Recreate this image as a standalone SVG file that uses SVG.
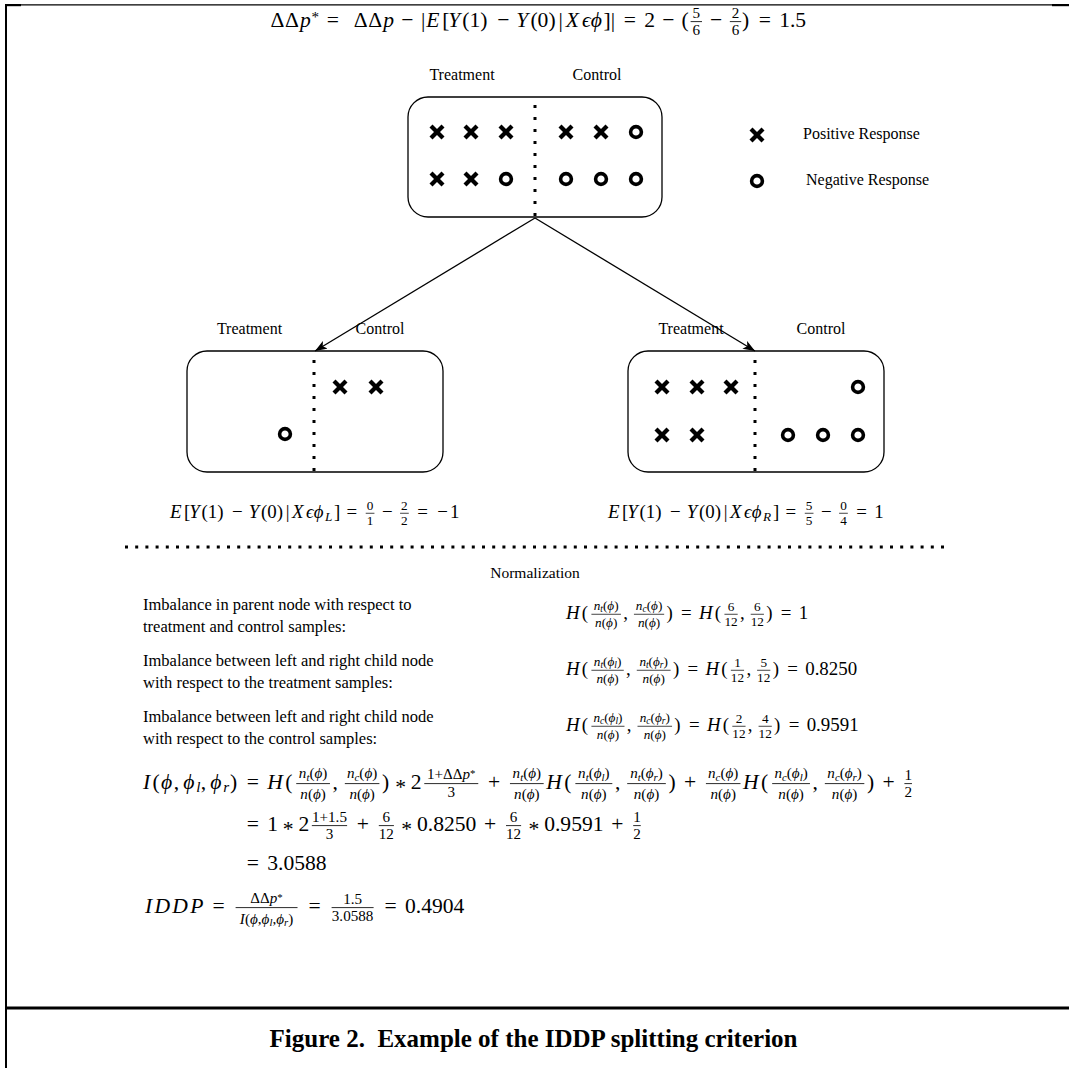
<svg xmlns="http://www.w3.org/2000/svg" width="1069" height="1068" viewBox="0 0 1069 1068">
<style>
.lbl{font-family:"Liberation Serif","DejaVu Serif",serif;font-size:16px;fill:#000}
.txt{font-family:"Liberation Serif","DejaVu Serif",serif;font-size:16.5px;fill:#000}
.cap{font-family:"Liberation Serif","DejaVu Serif",serif;font-size:25px;font-weight:bold;fill:#000;white-space:pre}
.math{font-family:"Liberation Serif","DejaVu Serif",serif;font-size:18px;fill:#000}
.i{font-style:italic}
.f{font-size:12.6px;text-anchor:middle}
.s{font-size:12.6px}
.ss{font-size:9px}
.fb{stroke:#000;stroke-width:0.7}
.node{fill:#fff;stroke:#000;stroke-width:1.3}
.div{stroke:#000;stroke-width:3;stroke-dasharray:3 9}
.x{stroke:#000;stroke-width:4.2}
.o{fill:none;stroke:#000;stroke-width:3.6}
.edge{stroke:#000;stroke-width:1.3;fill:none}
.frame{stroke:#000;fill:none}
</style>
<defs>
<marker id="arr" markerUnits="userSpaceOnUse" markerWidth="13" markerHeight="10" refX="12" refY="5" orient="auto"><path d="M0,0.5 L12,5 L0,9.5 L3,5 Z" fill="#000"/></marker>
<g id="X"><line x1="-6" y1="-6" x2="6" y2="6"/><line x1="-6" y1="6" x2="6" y2="-6"/></g>
<circle id="O" r="5.4"/>
</defs>

<g id="frame">
<line class="frame" x1="5" y1="4.8" x2="1069" y2="4.8" stroke-width="1.3"/>
<rect x="5" y="4" width="16" height="2.2" fill="#000"/>
<rect x="1052" y="4" width="17" height="2.2" fill="#000"/>
<line class="frame" x1="6" y1="4" x2="6" y2="1068" stroke-width="2"/>
<line class="frame" x1="5" y1="1008" x2="1069" y2="1008" stroke-width="3"/>
</g>

<!-- top formula -->
<g id="formula-top" class="math" transform="translate(264,27) scale(1.2)">
<text>
<tspan x="5.5" y="0">Δ</tspan><tspan x="17.5" y="0">Δ</tspan>
<tspan x="30" y="0" class="i">p</tspan>
<tspan x="39.5" y="-4" class="s">*</tspan>
<tspan x="52.2" y="0">=</tspan>
<tspan x="74.8" y="0">Δ</tspan><tspan x="86.8" y="0">Δ</tspan>
<tspan x="99.3" y="0" class="i">p</tspan>
<tspan x="114.3" y="0">−</tspan>
<tspan x="130.8" y="0">|</tspan>
<tspan x="135.3" y="0" class="i">E</tspan>
<tspan x="148.6" y="0">[</tspan>
<tspan x="153.6" y="0" class="i">Y</tspan>
<tspan x="165.3" y="0">(1)</tspan>
<tspan x="194.3" y="0">−</tspan>
<tspan x="210.3" y="0" class="i">Y</tspan>
<tspan x="222" y="0">(0)</tspan>
<tspan x="245.5" y="0">|</tspan>
<tspan x="251.5" y="0" class="i">X</tspan>
<tspan x="264.9" y="0" class="i">ϵ</tspan>
<tspan x="272.2" y="0" class="i">ϕ</tspan>
<tspan x="282.9" y="0">]|</tspan>
<tspan x="299.8" y="0">=</tspan>
<tspan x="316.9" y="0">2</tspan>
<tspan x="331.9" y="0">−</tspan>
<tspan x="347.9" y="0">(</tspan>
<tspan x="371.6" y="0">−</tspan>
<tspan x="398.3" y="0">)</tspan>
<tspan x="412.2" y="0">=</tspan>
<tspan x="429.3" y="0">1.5</tspan>
</text>
<text class="f" x="360.25" y="-7.5">5</text><text class="f" x="360.25" y="6.5">6</text><line class="fb" x1="355.5" y1="-4.5" x2="365" y2="-4.5"/>
<text class="f" x="393" y="-7.5">2</text><text class="f" x="393" y="6.5">6</text><line class="fb" x1="388.2" y1="-4.5" x2="397.7" y2="-4.5"/>
</g>

<!-- nodes -->
<g id="node-parent">
<text class="lbl" x="462" y="80" text-anchor="middle">Treatment</text>
<text class="lbl" x="597" y="80" text-anchor="middle">Control</text>
<rect class="node" x="408" y="97" width="254" height="120" rx="20" ry="20"/>
<line class="div" x1="535" y1="105" x2="535" y2="218"/>
<use href="#X" class="x" x="437" y="132"/><use href="#X" class="x" x="471" y="132"/><use href="#X" class="x" x="506" y="132"/>
<use href="#X" class="x" x="566" y="132"/><use href="#X" class="x" x="601" y="132"/><use href="#O" class="o" x="636" y="132"/>
<use href="#X" class="x" x="437" y="179"/><use href="#X" class="x" x="471" y="179"/><use href="#O" class="o" x="506" y="179"/>
<use href="#O" class="o" x="566" y="179"/><use href="#O" class="o" x="601" y="179"/><use href="#O" class="o" x="636" y="179"/>
</g>

<g id="legend">
<use href="#X" class="x" x="757" y="135"/>
<text class="lbl" x="803" y="138.5">Positive Response</text>
<use href="#O" class="o" x="757" y="181"/>
<text class="lbl" x="806" y="185">Negative Response</text>
</g>

<g id="node-left">
<text class="lbl" x="249.5" y="334" text-anchor="middle">Treatment</text>
<text class="lbl" x="380" y="334" text-anchor="middle">Control</text>
<rect class="node" x="187" y="351" width="256" height="121" rx="20" ry="20"/>
<line class="div" x1="314" y1="360" x2="314" y2="473"/>
<use href="#X" class="x" x="340" y="387"/><use href="#X" class="x" x="376" y="387"/>
<use href="#O" class="o" x="285" y="434"/>
</g>

<g id="node-right">
<text class="lbl" x="691" y="334" text-anchor="middle">Treatment</text>
<text class="lbl" x="821" y="334" text-anchor="middle">Control</text>
<rect class="node" x="628" y="351" width="256" height="121" rx="20" ry="20"/>
<line class="div" x1="755" y1="360" x2="755" y2="473"/>
<use href="#X" class="x" x="662" y="387"/><use href="#X" class="x" x="697" y="387"/><use href="#X" class="x" x="731" y="387"/>
<use href="#O" class="o" x="858" y="387"/>
<use href="#X" class="x" x="662" y="435"/><use href="#X" class="x" x="697" y="435"/>
<use href="#O" class="o" x="788" y="435"/><use href="#O" class="o" x="823" y="435"/><use href="#O" class="o" x="858" y="435"/>
</g>

<g id="connectors">
<line class="edge" x1="535" y1="218" x2="315" y2="351" marker-end="url(#arr)"/>
<line class="edge" x1="535" y1="218" x2="755" y2="351" marker-end="url(#arr)"/>
</g>

<!-- child formulas -->
<g id="formula-left" class="math" transform="translate(170,518) scale(1.05)">
<text>
<tspan x="0" y="0" class="i">E</tspan>
<tspan x="13.3" y="0">[</tspan>
<tspan x="18.3" y="0" class="i">Y</tspan>
<tspan x="30" y="0">(1)</tspan>
<tspan x="59" y="0">−</tspan>
<tspan x="75" y="0" class="i">Y</tspan>
<tspan x="86.7" y="0">(0)</tspan>
<tspan x="110.2" y="0">|</tspan>
<tspan x="116.2" y="0" class="i">X</tspan>
<tspan x="129.6" y="0" class="i">ϵ</tspan>
<tspan x="136.9" y="0" class="i">ϕ</tspan>
<tspan x="147.6" y="2.7" class="s i">L</tspan>
<tspan x="156.2" y="0">]</tspan>
<tspan x="168.1" y="0">=</tspan>
<tspan x="201.9" y="0">−</tspan>
<tspan x="235.5" y="0">=</tspan>
<tspan x="254.6" y="0">−</tspan>
<tspan x="266.6" y="0">1</tspan>
</text>
<text class="f" x="190.55" y="-7.5">0</text><text class="f" x="190.55" y="6.5">1</text><line class="fb" x1="186.4" y1="-4.5" x2="194.7" y2="-4.5"/>
<text class="f" x="223.25" y="-7.5">2</text><text class="f" x="223.25" y="6.5">2</text><line class="fb" x1="219.1" y1="-4.5" x2="227.4" y2="-4.5"/>
</g>

<g id="formula-right" class="math" transform="translate(608,518) scale(1.05)">
<text>
<tspan x="0" y="0" class="i">E</tspan>
<tspan x="13.3" y="0">[</tspan>
<tspan x="18.3" y="0" class="i">Y</tspan>
<tspan x="30" y="0">(1)</tspan>
<tspan x="59" y="0">−</tspan>
<tspan x="75" y="0" class="i">Y</tspan>
<tspan x="86.7" y="0">(0)</tspan>
<tspan x="110.2" y="0">|</tspan>
<tspan x="116.2" y="0" class="i">X</tspan>
<tspan x="129.6" y="0" class="i">ϵ</tspan>
<tspan x="136.9" y="0" class="i">ϕ</tspan>
<tspan x="147.6" y="2.7" class="s i">R</tspan>
<tspan x="157.2" y="0">]</tspan>
<tspan x="169.1" y="0">=</tspan>
<tspan x="202.9" y="0">−</tspan>
<tspan x="236.5" y="0">=</tspan>
<tspan x="253.6" y="0">1</tspan>
</text>
<text class="f" x="191.55" y="-7.5">5</text><text class="f" x="191.55" y="6.5">5</text><line class="fb" x1="187.4" y1="-4.5" x2="195.7" y2="-4.5"/>
<text class="f" x="224.25" y="-7.5">0</text><text class="f" x="224.25" y="6.5">4</text><line class="fb" x1="220.1" y1="-4.5" x2="228.4" y2="-4.5"/>
</g>

<line x1="125" y1="547" x2="946" y2="547" stroke="#000" stroke-width="3" stroke-dasharray="3 7.2"/>

<text class="lbl" x="535" y="578" text-anchor="middle" style="font-size:15.5px">Normalization</text>

<g id="norm-text">
<text class="txt" x="143" y="610">Imbalance in parent node with respect to</text>
<text class="txt" x="143" y="632">treatment and control samples:</text>
<text class="txt" x="143" y="666">Imbalance between left and right child node</text>
<text class="txt" x="143" y="688">with respect to the treatment samples:</text>
<text class="txt" x="143" y="722">Imbalance between left and right child node</text>
<text class="txt" x="143" y="744">with respect to the control samples:</text>
</g>

<!-- H1 -->
<g id="formula-h1" class="math" transform="translate(566,619) scale(1.05)">
<text>
<tspan x="0" y="0" class="i">H</tspan>
<tspan x="15" y="0">(</tspan>
<tspan x="54.5" y="0">,</tspan>
<tspan x="95.7" y="0">)</tspan>
<tspan x="109.6" y="0">=</tspan>
<tspan x="126.7" y="0" class="i">H</tspan>
<tspan x="141.7" y="0">(</tspan>
<tspan x="165.7" y="0">,</tspan>
<tspan x="190.7" y="0">)</tspan>
<tspan x="204.6" y="0">=</tspan>
<tspan x="221.7" y="0">1</tspan>
</text>
<text class="f" x="38.25" y="-9"><tspan class="i">n</tspan><tspan class="ss i" dy="2">t</tspan><tspan dy="-2">(</tspan><tspan class="i">ϕ</tspan>)</text>
<text class="f" x="38.25" y="8"><tspan class="i">n</tspan>(<tspan class="i">ϕ</tspan>)</text>
<line class="fb" x1="24.2" y1="-4.5" x2="52.3" y2="-4.5"/>
<text class="f" x="79.1" y="-9"><tspan class="i">n</tspan><tspan class="ss i" dy="2">c</tspan><tspan dy="-2">(</tspan><tspan class="i">ϕ</tspan>)</text>
<text class="f" x="79.1" y="8"><tspan class="i">n</tspan>(<tspan class="i">ϕ</tspan>)</text>
<line class="fb" x1="64.7" y1="-4.5" x2="93.5" y2="-4.5"/>
<text class="f" x="157.2" y="-7.5">6</text><text class="f" x="157.2" y="6.5">12</text><line class="fb" x1="150.9" y1="-4.5" x2="163.5" y2="-4.5"/>
<text class="f" x="182.2" y="-7.5">6</text><text class="f" x="182.2" y="6.5">12</text><line class="fb" x1="175.9" y1="-4.5" x2="188.5" y2="-4.5"/>
</g>

<!-- H2 -->
<g id="formula-h2" class="math" transform="translate(566,675) scale(1.05)">
<text>
<tspan x="0" y="0" class="i">H</tspan>
<tspan x="15" y="0">(</tspan>
<tspan x="57.2" y="0">,</tspan>
<tspan x="101.8" y="0">)</tspan>
<tspan x="115.7" y="0">=</tspan>
<tspan x="132.8" y="0" class="i">H</tspan>
<tspan x="147.8" y="0">(</tspan>
<tspan x="171.8" y="0">,</tspan>
<tspan x="196.8" y="0">)</tspan>
<tspan x="210.7" y="0">=</tspan>
<tspan x="227.8" y="0">0.8250</tspan>
</text>
<text class="f" x="39.6" y="-9"><tspan class="i">n</tspan><tspan class="ss i" dy="2">t</tspan><tspan dy="-2">(</tspan><tspan class="i">ϕ</tspan><tspan class="ss i" dy="2">l</tspan><tspan dy="-2">)</tspan></text>
<text class="f" x="39.6" y="8"><tspan class="i">n</tspan>(<tspan class="i">ϕ</tspan>)</text>
<line class="fb" x1="24.2" y1="-4.5" x2="55" y2="-4.5"/>
<text class="f" x="83.5" y="-9"><tspan class="i">n</tspan><tspan class="ss i" dy="2">t</tspan><tspan dy="-2">(</tspan><tspan class="i">ϕ</tspan><tspan class="ss i" dy="2">r</tspan><tspan dy="-2">)</tspan></text>
<text class="f" x="83.5" y="8"><tspan class="i">n</tspan>(<tspan class="i">ϕ</tspan>)</text>
<line class="fb" x1="67.4" y1="-4.5" x2="99.6" y2="-4.5"/>
<text class="f" x="163.3" y="-7.5">1</text><text class="f" x="163.3" y="6.5">12</text><line class="fb" x1="157" y1="-4.5" x2="169.6" y2="-4.5"/>
<text class="f" x="188.3" y="-7.5">5</text><text class="f" x="188.3" y="6.5">12</text><line class="fb" x1="182" y1="-4.5" x2="194.6" y2="-4.5"/>
</g>

<!-- H3 -->
<g id="formula-h3" class="math" transform="translate(566,731) scale(1.05)">
<text>
<tspan x="0" y="0" class="i">H</tspan>
<tspan x="15" y="0">(</tspan>
<tspan x="57.9" y="0">,</tspan>
<tspan x="103.2" y="0">)</tspan>
<tspan x="117.1" y="0">=</tspan>
<tspan x="134.2" y="0" class="i">H</tspan>
<tspan x="149.2" y="0">(</tspan>
<tspan x="173.2" y="0">,</tspan>
<tspan x="198.2" y="0">)</tspan>
<tspan x="212.1" y="0">=</tspan>
<tspan x="229.2" y="0">0.9591</tspan>
</text>
<text class="f" x="39.95" y="-9"><tspan class="i">n</tspan><tspan class="ss i" dy="2">c</tspan><tspan dy="-2">(</tspan><tspan class="i">ϕ</tspan><tspan class="ss i" dy="2">l</tspan><tspan dy="-2">)</tspan></text>
<text class="f" x="39.95" y="8"><tspan class="i">n</tspan>(<tspan class="i">ϕ</tspan>)</text>
<line class="fb" x1="24.2" y1="-4.5" x2="55.7" y2="-4.5"/>
<text class="f" x="84.55" y="-9"><tspan class="i">n</tspan><tspan class="ss i" dy="2">c</tspan><tspan dy="-2">(</tspan><tspan class="i">ϕ</tspan><tspan class="ss i" dy="2">r</tspan><tspan dy="-2">)</tspan></text>
<text class="f" x="84.55" y="8"><tspan class="i">n</tspan>(<tspan class="i">ϕ</tspan>)</text>
<line class="fb" x1="68.1" y1="-4.5" x2="101" y2="-4.5"/>
<text class="f" x="164.7" y="-7.5">2</text><text class="f" x="164.7" y="6.5">12</text><line class="fb" x1="158.4" y1="-4.5" x2="171" y2="-4.5"/>
<text class="f" x="189.7" y="-7.5">4</text><text class="f" x="189.7" y="6.5">12</text><line class="fb" x1="183.4" y1="-4.5" x2="196" y2="-4.5"/>
</g>

<!-- I formula line 1 -->
<g id="formula-i1" class="math" transform="translate(143,789) scale(1.2)">
<text>
<tspan x="0" y="0" class="i">I</tspan>
<tspan x="7.9" y="0">(</tspan>
<tspan x="14.9" y="0" class="i">ϕ</tspan>
<tspan x="25.6" y="0">,</tspan>
<tspan x="33.6" y="0" class="i">ϕ</tspan>
<tspan x="44.3" y="2.7" class="s i">l</tspan>
<tspan x="48.1" y="0">,</tspan>
<tspan x="56.1" y="0" class="i">ϕ</tspan>
<tspan x="66.8" y="2.7" class="s i">r</tspan>
<tspan x="72.5" y="0">)</tspan>
<tspan x="86.4" y="0">=</tspan>
<tspan x="103.5" y="0" class="i">H</tspan>
<tspan x="118.5" y="0">(</tspan>
<tspan x="158" y="0">,</tspan>
<tspan x="199.2" y="0">)</tspan>
<tspan x="210.2" y="4">*</tspan>
<tspan x="223.2" y="0">2</tspan>
<tspan x="287.5" y="0">+</tspan>
<tspan x="336.1" y="0" class="i">H</tspan>
<tspan x="351.1" y="0">(</tspan>
<tspan x="393.3" y="0">,</tspan>
<tspan x="437.9" y="0">)</tspan>
<tspan x="450.8" y="0">+</tspan>
<tspan x="500.1" y="0" class="i">H</tspan>
<tspan x="515.1" y="0">(</tspan>
<tspan x="558" y="0">,</tspan>
<tspan x="603.3" y="0">)</tspan>
<tspan x="616.2" y="0">+</tspan>
</text>
<text class="f" x="141.75" y="-9"><tspan class="i">n</tspan><tspan class="ss i" dy="2">t</tspan><tspan dy="-2">(</tspan><tspan class="i">ϕ</tspan>)</text>
<text class="f" x="141.75" y="8"><tspan class="i">n</tspan>(<tspan class="i">ϕ</tspan>)</text>
<line class="fb" x1="127.7" y1="-4.5" x2="155.8" y2="-4.5"/>
<text class="f" x="182.6" y="-9"><tspan class="i">n</tspan><tspan class="ss i" dy="2">c</tspan><tspan dy="-2">(</tspan><tspan class="i">ϕ</tspan>)</text>
<text class="f" x="182.6" y="8"><tspan class="i">n</tspan>(<tspan class="i">ϕ</tspan>)</text>
<line class="fb" x1="168.2" y1="-4.5" x2="197" y2="-4.5"/>
<text class="f" x="256.9" y="-8">1+ΔΔ<tspan class="i">p</tspan><tspan class="ss" dy="-2">*</tspan></text>
<text class="f" x="256.9" y="6.5">3</text>
<line class="fb" x1="234.4" y1="-4.5" x2="279.4" y2="-4.5"/>
<text class="f" x="319.85" y="-9"><tspan class="i">n</tspan><tspan class="ss i" dy="2">t</tspan><tspan dy="-2">(</tspan><tspan class="i">ϕ</tspan>)</text>
<text class="f" x="319.85" y="8"><tspan class="i">n</tspan>(<tspan class="i">ϕ</tspan>)</text>
<line class="fb" x1="305.8" y1="-4.5" x2="333.9" y2="-4.5"/>
<text class="f" x="375.7" y="-9"><tspan class="i">n</tspan><tspan class="ss i" dy="2">t</tspan><tspan dy="-2">(</tspan><tspan class="i">ϕ</tspan><tspan class="ss i" dy="2">l</tspan><tspan dy="-2">)</tspan></text>
<text class="f" x="375.7" y="8"><tspan class="i">n</tspan>(<tspan class="i">ϕ</tspan>)</text>
<line class="fb" x1="360.3" y1="-4.5" x2="391.1" y2="-4.5"/>
<text class="f" x="419.6" y="-9"><tspan class="i">n</tspan><tspan class="ss i" dy="2">t</tspan><tspan dy="-2">(</tspan><tspan class="i">ϕ</tspan><tspan class="ss i" dy="2">r</tspan><tspan dy="-2">)</tspan></text>
<text class="f" x="419.6" y="8"><tspan class="i">n</tspan>(<tspan class="i">ϕ</tspan>)</text>
<line class="fb" x1="403.5" y1="-4.5" x2="435.7" y2="-4.5"/>
<text class="f" x="483.5" y="-9"><tspan class="i">n</tspan><tspan class="ss i" dy="2">c</tspan><tspan dy="-2">(</tspan><tspan class="i">ϕ</tspan>)</text>
<text class="f" x="483.5" y="8"><tspan class="i">n</tspan>(<tspan class="i">ϕ</tspan>)</text>
<line class="fb" x1="469.1" y1="-4.5" x2="497.9" y2="-4.5"/>
<text class="f" x="540.05" y="-9"><tspan class="i">n</tspan><tspan class="ss i" dy="2">c</tspan><tspan dy="-2">(</tspan><tspan class="i">ϕ</tspan><tspan class="ss i" dy="2">l</tspan><tspan dy="-2">)</tspan></text>
<text class="f" x="540.05" y="8"><tspan class="i">n</tspan>(<tspan class="i">ϕ</tspan>)</text>
<line class="fb" x1="524.3" y1="-4.5" x2="555.8" y2="-4.5"/>
<text class="f" x="584.65" y="-9"><tspan class="i">n</tspan><tspan class="ss i" dy="2">c</tspan><tspan dy="-2">(</tspan><tspan class="i">ϕ</tspan><tspan class="ss i" dy="2">r</tspan><tspan dy="-2">)</tspan></text>
<text class="f" x="584.65" y="8"><tspan class="i">n</tspan>(<tspan class="i">ϕ</tspan>)</text>
<line class="fb" x1="568.2" y1="-4.5" x2="601.1" y2="-4.5"/>
<text class="f" x="637.65" y="-7.5">1</text><text class="f" x="637.65" y="6.5">2</text><line class="fb" x1="634.5" y1="-4.5" x2="640.8" y2="-4.5"/>
</g>

<!-- I formula line 2 -->
<g id="formula-i2" class="math" transform="translate(143,831) scale(1.2)">
<text>
<tspan x="86.4" y="0">=</tspan>
<tspan x="103.5" y="0">1</tspan>
<tspan x="116.5" y="4">*</tspan>
<tspan x="129.5" y="0">2</tspan>
<tspan x="178.2" y="0">+</tspan>
<tspan x="215.3" y="4">*</tspan>
<tspan x="228.3" y="0">0.8250</tspan>
<tspan x="284.2" y="0">+</tspan>
<tspan x="321.3" y="4">*</tspan>
<tspan x="334.3" y="0">0.9591</tspan>
<tspan x="390.2" y="0">+</tspan>
</text>
<text class="f" x="155.4" y="-7.5">1+1.5</text><text class="f" x="155.4" y="6.5">3</text><line class="fb" x1="140.7" y1="-4.5" x2="170.1" y2="-4.5"/>
<text class="f" x="202.8" y="-7.5">6</text><text class="f" x="202.8" y="6.5">12</text><line class="fb" x1="196.5" y1="-4.5" x2="209.1" y2="-4.5"/>
<text class="f" x="308.8" y="-7.5">6</text><text class="f" x="308.8" y="6.5">12</text><line class="fb" x1="302.5" y1="-4.5" x2="315.1" y2="-4.5"/>
<text class="f" x="411.65" y="-7.5">1</text><text class="f" x="411.65" y="6.5">2</text><line class="fb" x1="408.5" y1="-4.5" x2="414.8" y2="-4.5"/>
</g>

<!-- I formula line 3 -->
<g id="formula-i3" class="math" transform="translate(143,870) scale(1.2)">
<text><tspan x="86.4" y="0">=</tspan><tspan x="103.5" y="0">3.0588</tspan></text>
</g>

<!-- IDDP -->
<g id="formula-iddp" class="math" transform="translate(145,913) scale(1.2)">
<text>
<tspan x="0" y="0" class="i">I</tspan>
<tspan x="7.9" y="0" class="i">D</tspan>
<tspan x="22.8" y="0" class="i">D</tspan>
<tspan x="37.7" y="0" class="i">P</tspan>
<tspan x="56.2" y="0">=</tspan>
<tspan x="136.2" y="0">=</tspan>
<tspan x="199.6" y="0">=</tspan>
<tspan x="216.7" y="0">0.4904</tspan>
</text>
<text class="f" x="101.3" y="-8">ΔΔ<tspan class="i">p</tspan><tspan class="ss" dy="-2">*</tspan></text>
<text class="f" x="101.3" y="9"><tspan class="i">I</tspan>(<tspan class="i">ϕ</tspan>,<tspan class="i">ϕ</tspan><tspan class="ss i" dy="2">l</tspan><tspan dy="-2">,</tspan><tspan class="i">ϕ</tspan><tspan class="ss i" dy="2">r</tspan><tspan dy="-2">)</tspan></text>
<line class="fb" x1="75.5" y1="-4.5" x2="127.1" y2="-4.5"/>
<text class="f" x="173" y="-7.5">1.5</text><text class="f" x="173" y="6.5">3.0588</text><line class="fb" x1="155.5" y1="-4.5" x2="190.5" y2="-4.5"/>
</g>

<text class="cap" x="533.5" y="1047" text-anchor="middle">Figure 2.  Example of the IDDP splitting criterion</text>
</svg>
